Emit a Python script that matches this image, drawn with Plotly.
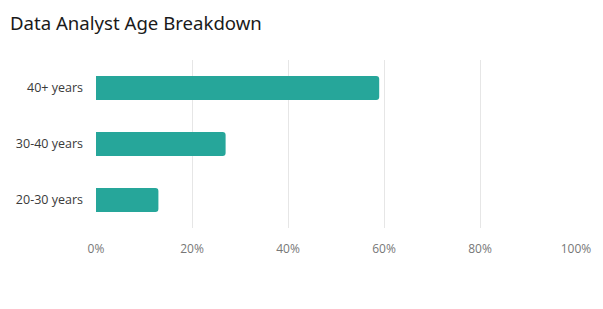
import plotly.graph_objects as go

categories = ["20-30 years", "30-40 years", "40+ years"]
values = [13, 27, 59]
x_ticks = [0, 20, 40, 60, 80, 100]
x_tick_labels = ["0%", "20%", "40%", "60%", "80%", "100%"]

fig = go.Figure(go.Bar(
    y=categories, x=values, orientation="h",
    marker=dict(color="#26a69a", cornerradius=3, line=dict(width=0)),
    hoverinfo="skip",
))

fig.update_layout(
    width=603, height=309,
    margin=dict(l=96, r=23, t=60, b=81),
    paper_bgcolor="white", plot_bgcolor="white",
    font=dict(family="Open Sans", size=12, color="#333"),
    title=dict(text="Data Analyst Age Breakdown", x=10/603, xanchor="left",
               y=1-23/309, yanchor="middle",
               font=dict(family="Noto Sans", size=18.6, color="#1a1a1a")),
    bargap=1-24/56,
    showlegend=False,
)
fig.update_xaxes(range=[0, 100], tickvals=x_ticks, ticktext=x_tick_labels,
                 showgrid=True, gridcolor="#e6e6e6", gridwidth=1,
                 zeroline=False, showline=False,
                 tickfont=dict(color="#777", size=12), ticklabelstandoff=12)
fig.update_yaxes(range=[-0.5, 2.5], showgrid=False, zeroline=False, showline=False,
                 tickfont=dict(color="#3a3a3a", size=12.5), ticklabelstandoff=12)

fig.write_html("out.html")
